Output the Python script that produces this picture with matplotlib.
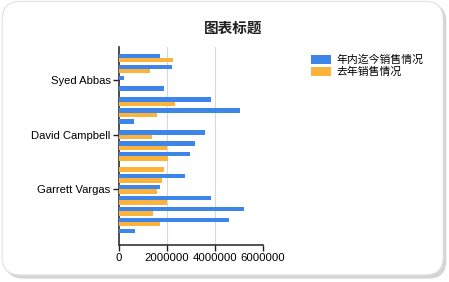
import numpy as np
import matplotlib.pyplot as plt
from matplotlib.patches import FancyBboxPatch

plt.rcParams['font.family'] = ['Liberation Sans', 'Noto Sans CJK SC', 'DejaVu Sans']

# 17 行，从上到下；只有每第5个类别显示名称
ytd_sales = [1720000, 2220000, 210000, 1880000, 3810000, 5020000, 630000,
             3560000, 3180000, 2970000, 0, 2760000, 1720000, 3850000,
             5190000, 4560000, 670000]
last_year_sales = [2260000, 1300000, 0, 0, 2340000, 1590000, 0,
                   1380000, 2000000, 2050000, 1880000, 1800000, 1590000, 1980000,
                   1420000, 1720000, 0]
tick_rows = [2, 7, 12]
tick_labels = ['Syed Abbas', 'David Campbell', 'Garrett Vargas']
xticks = [0, 2000000, 4000000, 6000000]
series_names = ['年内迄今销售情况', '去年销售情况']

fig = plt.figure(figsize=(4.49, 2.82), dpi=100)
fig.patch.set_facecolor('white')

# 圆角外框 + 阴影
shadow = FancyBboxPatch((0.012, 0.012), 0.982, 0.975, boxstyle='round,pad=0,rounding_size=0.04',
                        transform=fig.transFigure, facecolor='#d4d4d4', edgecolor='none',
                        mutation_aspect=449 / 282, zorder=-2)
frame = FancyBboxPatch((0.005, 0.025), 0.982, 0.97, boxstyle='round,pad=0,rounding_size=0.04',
                       transform=fig.transFigure, facecolor='white', edgecolor='#e0e0e0',
                       linewidth=0.8, mutation_aspect=449 / 282, zorder=-1)
fig.patches.extend([shadow, frame])

ax = fig.add_axes([0.265, 0.131, 0.321, 0.702])
ax.patch.set_alpha(0)
y = np.arange(len(ytd_sales))
h = 0.4
ax.barh(y - h / 2, ytd_sales, height=h, color='#3d85e8', label=series_names[0], zorder=3)
ax.barh(y + h / 2, last_year_sales, height=h, color='#fbb33b', label=series_names[1], zorder=3)

ax.set_xlim(0, 6000000)
ax.set_ylim(17.1, -1)
ax.set_xticks(xticks)
ax.set_xticklabels([str(v) for v in xticks], fontsize=8.2)
ax.set_yticks(tick_rows)
ax.set_yticklabels(tick_labels, fontsize=8.1)
ax.tick_params(axis='both', length=4, width=1, color='#222222', pad=2)
ax.grid(axis='x', color='#d8d8d8', linewidth=0.8, zorder=0)

for s in ['top', 'right']:
    ax.spines[s].set_visible(False)
ax.spines['left'].set_color('#333333')
ax.spines['bottom'].set_color('#333333')
ax.spines['left'].set_linewidth(1.2)
ax.spines['bottom'].set_linewidth(1.2)

fig.text(0.519, 0.9, '图表标题', ha='center', va='center', fontsize=10.5,
         fontweight='bold', color='#222222', family=['Noto Sans CJK SC'])

ax.legend(loc='upper left', bbox_to_anchor=(1.30, 0.985), frameon=False,
          prop={'family': 'Noto Sans CJK SC', 'size': 7.8, 'weight': 'medium'},
          handlelength=1.85, handleheight=0.9, handletextpad=0.55, labelspacing=0.2,
          borderaxespad=0)

fig.savefig('out.png', dpi=100)
